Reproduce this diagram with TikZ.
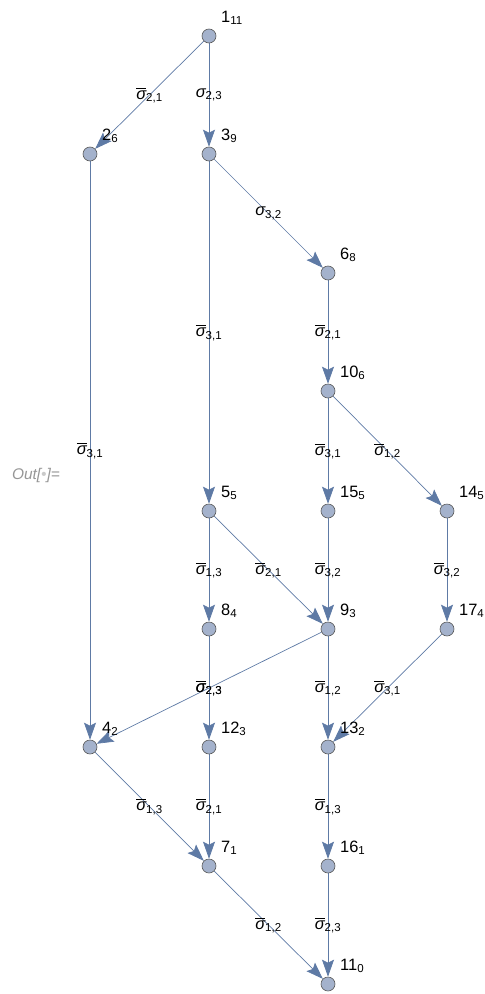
\documentclass[tikz,border=0pt]{standalone}
\usepackage{amsmath}
\usepackage{fontspec}
\setmainfont{Liberation Sans}
\usetikzlibrary{arrows.meta,backgrounds}
\definecolor{edgeblue}{RGB}{94,122,165}
\definecolor{vxfill}{RGB}{164,178,204}
\definecolor{outgray}{RGB}{150,150,150}
\tikzset{
  vx/.style={circle,draw=black!65,fill=vxfill,minimum size=14bp,inner sep=0pt,line width=0.6bp},
  ed/.style={draw=edgeblue,line width=0.7bp,-{Stealth[length=17bp,width=12bp,inset=3bp,fill=edgeblue]}},
  lbl/.style={font=\fontsize{16.5}{19}\selectfont,inner sep=0pt,anchor=base west},
  elbl/.style={font=\fontsize{16.5}{19}\selectfont,inner sep=0pt,midway},
  outlbl/.style={font=\fontsize{15.5}{18}\selectfont\itshape,text=outgray,inner sep=0pt}
}
\newcommand{\sg}[1]{$\text{\itshape σ}_{\text{#1}}$}
\newcommand{\sgb}[1]{$\overline{\text{\itshape σ}}_{\text{#1}}$}
\newcommand{\vtx}[4]{\node[vx] (v#1) at (#2,#3) {};
  \node[lbl] (l#1) at ([shift={(12,-14)}]v#1.center) {#1\textsubscript{#4}};}

\begin{document}
\begin{tikzpicture}[x=1bp,y=-1bp]
\useasboundingbox (0,0) rectangle (485,994);
\node[outlbl] (out) at (36,476) {Out[{\color{outgray!50}\textbullet}]=};
% vertices
\vtx{1}{209}{36}{11}
\vtx{2}{90}{154}{6}
\vtx{3}{209}{154}{9}
\vtx{6}{328}{273}{8}
\vtx{10}{328}{391}{6}
\vtx{5}{209}{511}{5}
\vtx{15}{328}{511}{5}
\vtx{14}{447}{511}{5}
\vtx{8}{209}{629}{4}
\vtx{9}{328}{629}{3}
\vtx{17}{447}{629}{4}
\vtx{4}{90}{747}{2}
\vtx{12}{209}{747}{3}
\vtx{13}{328}{747}{2}
\vtx{7}{209}{866}{1}
\vtx{16}{328}{866}{1}
\vtx{11}{328}{984}{0}
% edges, under the vertices
\begin{pgfonlayer}{background}
\draw[ed] (v1) -- (v2) node[elbl] (e1) {\sgb{2,1}};
\draw[ed] (v1) -- (v3) node[elbl] (e2) {\sg{2,3}};
\draw[ed] (v3) -- (v6) node[elbl] (e3) {\sg{3,2}};
\draw[ed] (v3) -- (v5) node[elbl] (e4) {\sgb{3,1}};
\draw[ed] (v2) -- (v4) node[elbl] (e5) {\sgb{3,1}};
\draw[ed] (v6) -- (v10) node[elbl] (e6) {\sgb{2,1}};
\draw[ed] (v10) -- (v15) node[elbl] (e7) {\sgb{3,1}};
\draw[ed] (v10) -- (v14) node[elbl] (e8) {\sgb{1,2}};
\draw[ed] (v5) -- (v8) node[elbl] (e9) {\sgb{1,3}};
\draw[ed] (v5) -- (v9) node[elbl] (e10) {\sgb{2,1}};
\draw[ed] (v15) -- (v9) node[elbl] (e11) {\sgb{3,2}};
\draw[ed] (v14) -- (v17) node[elbl] (e12) {\sgb{3,2}};
\draw[ed] (v9) -- (v4) node[elbl] (e13) {\sgb{2,3}};
\draw[ed] (v8) -- (v12) node[elbl] (e14) {\sgb{2,3}};
\draw[ed] (v9) -- (v13) node[elbl] (e15) {\sgb{1,2}};
\draw[ed] (v17) -- (v13) node[elbl] (e16) {\sgb{3,1}};
\draw[ed] (v4) -- (v7) node[elbl] (e17) {\sgb{1,3}};
\draw[ed] (v12) -- (v7) node[elbl] (e18) {\sgb{2,1}};
\draw[ed] (v13) -- (v16) node[elbl] (e19) {\sgb{1,3}};
\draw[ed] (v7) -- (v11) node[elbl] (e20) {\sgb{1,2}};
\draw[ed] (v16) -- (v11) node[elbl] (e21) {\sgb{2,3}};
\end{pgfonlayer}
\end{tikzpicture}
\end{document}
